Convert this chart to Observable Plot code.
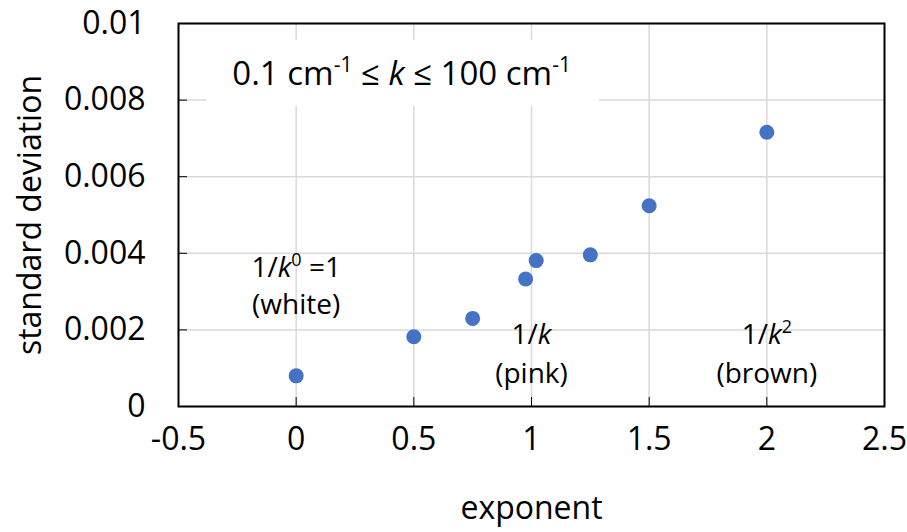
<!DOCTYPE html>
<html><head><meta charset="utf-8">
<script src="https://cdn.jsdelivr.net/npm/d3@7"></script>
<script src="https://cdn.jsdelivr.net/npm/@observablehq/plot@0.6"></script>
<style>body{margin:0;background:#fff}</style>
</head><body><div id="chart"></div>
<script>
const exponents = [0, 0.5, 0.75, 0.975, 1.02, 1.25, 1.5, 2];
const stdDevs = [0.0008, 0.00182, 0.0023, 0.00333, 0.00381, 0.00396, 0.00524, 0.00716];
const xTicks = [-0.5, 0, 0.5, 1, 1.5, 2, 2.5];
const xTickLabels = ["-0.5", "0", "0.5", "1", "1.5", "2", "2.5"];
const yTicks = [0, 0.002, 0.004, 0.006, 0.008, 0.01];
const yTickLabels = ["0", "0.002", "0.004", "0.006", "0.008", "0.01"];
const annotationText = ["1/<i>k</i><sup>0</sup> =1", "(white)", "1/<i>k</i>", "(pink)", "1/<i>k</i><sup>2</sup>", "(brown)"];
const annotationX = [0, 0, 1, 1, 2, 2];
const annotationY = [0.00361, 0.00264, 0.00186, 0.00086, 0.00186, 0.00086];
const rangeText = ["0.1 cm<sup>-1</sup> ≤ <i>k</i> ≤ 100 cm<sup>-1</sup>"];
const rangeX = [0.448];
const rangeY = [0.00866];

const chart = Plot.plot({
  width: 907, height: 532,
  marginLeft: 178, marginRight: 23, marginTop: 23, marginBottom: 126,
  style: {fontFamily: "'Open Sans', sans-serif", fontSize: "28px", color: "#000", background: "#fff"},
  x: {domain: [-0.5, 2.5]},
  y: {domain: [0, 0.01]},
  marks: [
    Plot.gridX(xTicks, {stroke: "#d9d9d9", strokeOpacity: 1, strokeWidth: 1.5}),
    Plot.gridY(yTicks, {stroke: "#d9d9d9", strokeOpacity: 1, strokeWidth: 1.5}),
    Plot.text(rangeText, {x: rangeX, y: rangeY, text: d => d, className: "rangebox", fill: "#000", fontSize: 33}),
    Plot.text(annotationText, {x: annotationX, y: annotationY, text: d => d, className: "anno", fill: "#000", fontSize: 28}),
    Plot.axisX(xTicks, {tickSize: -9, tickPadding: 30, fontSize: 32, tickFormat: d => xTickLabels[xTicks.indexOf(d)],
      label: "exponent", labelAnchor: "center", labelOffset: 112, labelArrow: "none"}),
    Plot.axisY(yTicks, {tickSize: -9, tickPadding: 42, fontSize: 32, tickFormat: d => yTickLabels[yTicks.indexOf(d)],
      label: "standard deviation", labelAnchor: "center", labelOffset: 160, labelArrow: "none"}),
    Plot.frame({stroke: "#000", strokeWidth: 2}),
    Plot.dot(exponents, {x: d => d, y: (d, i) => stdDevs[i], r: 7.5, fill: "#4472C4", stroke: "none"})
  ]
});
document.getElementById("chart").appendChild(chart);

function richify(el, supSize, shift) {
  const src = el.textContent;
  const parts = src.split(/(<i>.*?<\/i>|<sup>.*?<\/sup>)/).filter(s => s);
  const t = d3.select(el);
  t.text(null);
  let raised = false;
  parts.forEach(p => {
    let m;
    const ts = t.append("tspan");
    if ((m = p.match(/^<sup>(.*)<\/sup>$/))) {
      ts.text(m[1]).attr("font-size", supSize + "px").attr("dy", -shift);
      raised = true;
    } else {
      if ((m = p.match(/^<i>(.*)<\/i>$/))) { ts.text(m[1]).attr("font-style", "italic"); }
      else ts.text(p);
      if (raised) { ts.attr("dy", shift); raised = false; }
    }
  });
}
d3.select(chart).selectAll("g.anno text").each(function () { richify(this, 18, 11); });
d3.select(chart).selectAll("g.rangebox text").each(function () { richify(this, 21, 13); });
d3.select(chart).selectAll("g.rangebox text").each(function () {
  const b = this.getBBox();
  const tr = this.getAttribute("transform");
  const cy = b.y + b.height / 2;
  d3.select(this.parentNode).insert("rect", () => this)
    .attr("x", b.x - 26).attr("y", cy - 33).attr("width", b.width + 54).attr("height", 66)
    .attr("transform", tr).attr("fill", "#fff").attr("stroke", "none");
});
</script>
</body></html>
